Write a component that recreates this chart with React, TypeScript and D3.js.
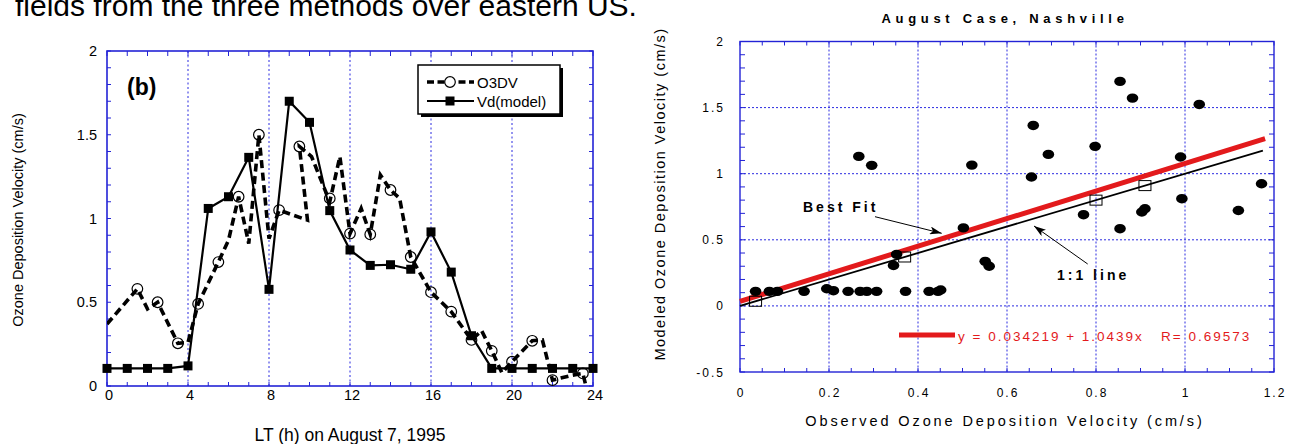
import React from "react";
import * as d3 from "d3";

// ---------- Left panel data ----------
const hourTicks = [0, 4, 8, 12, 16, 20, 24];
const hourGrid = [4, 8, 12, 16, 20];
const leftYTicks = [0, 0.5, 1, 1.5, 2];

const vdHours = [0, 1, 2, 3, 4, 5, 6, 7, 8, 9, 10, 11, 12, 13, 14, 15, 16, 17, 18, 19, 20, 21, 22, 23, 24];
const vdValues = [0.105, 0.105, 0.105, 0.105, 0.12, 1.06, 1.13, 1.365, 0.577, 1.7, 1.574, 1.047, 0.812, 0.72, 0.724, 0.697, 0.92, 0.68, 0.3, 0.105, 0.105, 0.105, 0.105, 0.105, 0.105];

const o3dvLineHours = [0, 1.5, 2.0, 2.5, 3.5, 4.0, 4.5, 5.5, 6.0, 6.5, 7.0, 7.5, 8.0, 8.5, 9.2, 9.9, 9.5, 10.1, 11.0, 11.5, 12.0, 12.55, 13.0, 13.5, 14.0, 14.45, 15.0, 16.0, 17.0, 18.0, 18.5, 19.0, 19.5, 20.0, 21.0, 21.5, 22.0, 23.0, 23.5, 23.75];
const o3dvLineValues = [0.37, 0.58, 0.46, 0.5, 0.255, 0.26, 0.49, 0.74, 0.87, 1.13, 0.85, 1.5, 0.88, 1.05, 1.02, 0.99, 1.43, 1.37, 1.1, 1.37, 0.91, 1.06, 0.905, 1.26, 1.17, 1.12, 0.77, 0.56, 0.444, 0.275, 0.33, 0.21, 0.08, 0.145, 0.27, 0.275, 0.035, 0.065, 0.075, -0.05];
const o3dvMarkHours = [1.5, 2.5, 3.5, 4.5, 5.5, 6.5, 7.5, 8.5, 9.5, 11, 12, 13, 14, 15, 16, 17, 18, 19, 20, 21, 22, 23.5];
const o3dvMarkValues = [0.58, 0.5, 0.255, 0.49, 0.74, 1.13, 1.5, 1.05, 1.43, 1.12, 0.91, 0.905, 1.17, 0.77, 0.56, 0.444, 0.275, 0.21, 0.145, 0.27, 0.035, 0.075];

// ---------- Right panel data ----------
const rightXTicks = [0, 0.2, 0.4, 0.6, 0.8, 1, 1.2];
const rightYTicks = [-0.5, 0, 0.5, 1, 1.5, 2];
const rightXGrid = [0.2, 0.4, 0.6, 0.8, 1.0];
const rightYGrid = [0, 0.5, 1, 1.5];

const observed = [0.035, 0.066, 0.084, 0.144, 0.195, 0.21, 0.243, 0.27, 0.285, 0.307, 0.372, 0.425, 0.445, 0.451,
  0.345, 0.352, 0.502, 0.551, 0.56, 0.267, 0.296, 0.521, 0.655, 0.659, 0.693, 0.772, 0.798, 0.854, 0.854, 0.882,
  0.903, 0.91, 0.99, 0.993, 1.032, 1.12, 1.172];
const modeled = [0.11, 0.11, 0.11, 0.11, 0.13, 0.115, 0.11, 0.11, 0.11, 0.11, 0.11, 0.11, 0.11, 0.12,
  0.306, 0.39, 0.59, 0.337, 0.3, 1.131, 1.063, 1.065, 0.975, 1.365, 1.146, 0.69, 1.207, 1.698, 0.584, 1.572,
  0.71, 0.735, 1.126, 0.811, 1.524, 0.722, 0.924];
const oneToOneMarks = [0.035, 0.37, 0.8, 0.91];
const fitIntercept = 0.034219;
const fitSlope = 1.0439;
const fitR = 0.69573;
const fitRange = [0, 1.18];
const oneToOneRange = [0, 1.175];

const BLUE = "#2323d6";
const GRID = "#2a2ae0";
const RED = "#e31a1c";
const FONT = "'Liberation Sans', Arial, Helvetica, sans-serif";

function range(a: number, b: number, step: number) {
  const out: number[] = [];
  for (let v = a; v <= b + 1e-9; v += step) out.push(+v.toFixed(6));
  return out;
}

function LeftPanel() {
  const x = d3.scaleLinear().domain([0, 24]).range([107, 593]);
  const y = d3.scaleLinear().domain([0, 2]).range([386, 51]);
  const [x0, x1] = x.range();
  const [y0, y1] = y.range();
  const vdLine = d3.line<number>().x((d, i) => x(vdHours[i])).y((d) => y(d));
  const o3Line = d3.line<number>().x((d, i) => x(o3dvLineHours[i])).y((d) => y(d));
  const minorX = range(0, 24, 1);
  const minorY = range(0, 2, 0.1);
  return (
    <g fontFamily={FONT}>
      <defs>
        <clipPath id="clipL">
          <rect x={x0} y={y1} width={x1 - x0} height={y0 - y1 + 1} />
        </clipPath>
      </defs>
      {hourGrid.map((h) => (
        <line key={"g" + h} x1={x(h)} x2={x(h)} y1={y1} y2={y0} stroke={GRID} strokeWidth={1} strokeDasharray="2,2.5" />
      ))}
      {minorX.map((h) => (
        <g key={"tx" + h}>
          <line x1={x(h)} x2={x(h)} y1={y0} y2={y0 - 4} stroke={BLUE} strokeWidth={1} />
          <line x1={x(h)} x2={x(h)} y1={y1} y2={y1 + 5} stroke={BLUE} strokeWidth={1} />
        </g>
      ))}
      {minorY.map((v) => (
        <g key={"ty" + v}>
          <line x1={x0} x2={x0 + 4} y1={y(v)} y2={y(v)} stroke={BLUE} strokeWidth={1} />
          <line x1={x1} x2={x1 - 4} y1={y(v)} y2={y(v)} stroke={BLUE} strokeWidth={1} />
        </g>
      ))}
      <rect x={x0} y={y1} width={x1 - x0} height={y0 - y1} fill="none" stroke={BLUE} strokeWidth={1.6} />
      {hourTicks.map((h) => (
        <text key={"lx" + h} x={x(h) + 2} y={400} fontSize={14.5} textAnchor="middle" fill="#000">{h}</text>
      ))}
      {leftYTicks.map((v) => (
        <text key={"ly" + v} x={97} y={y(v) + 5} fontSize={14.5} textAnchor="end" fill="#000">{v}</text>
      ))}
      <g clipPath="url(#clipL)">
        <path d={o3Line(o3dvLineValues) || ""} fill="none" stroke="#000" strokeWidth={3.6} strokeDasharray="8,4.5" />
        <path d={vdLine(vdValues) || ""} fill="none" stroke="#000" strokeWidth={2.2} />
      </g>
      {o3dvMarkValues.map((v, i) => (
        <circle key={"c" + i} cx={x(o3dvMarkHours[i])} cy={y(v)} r={5.3} fill="none" stroke="#000" strokeWidth={1.2} />
      ))}
      {vdValues.map((v, i) => (
        <rect key={"s" + i} x={x(vdHours[i]) - 4.5} y={y(v) - 4.5} width={9} height={9} fill="#000" />
      ))}
      <text x={127} y={95} fontSize={23} fontWeight="bold" fill="#000">(b)</text>
      {/* legend */}
      <rect x={421} y={68} width={142} height={49} fill="#000" />
      <rect x={418} y={65} width={142} height={49} fill="#fff" stroke="#000" strokeWidth={1.5} />
      <line x1={427} x2={474} y1={82} y2={82} stroke="#000" strokeWidth={3.6} strokeDasharray="7,3.5" />
      <circle cx={450} cy={82} r={5.3} fill="#fff" stroke="#000" strokeWidth={1.2} />
      <text x={477} y={87.5} fontSize={15} fill="#000">O3DV</text>
      <line x1={427} x2={474} y1={101} y2={101} stroke="#000" strokeWidth={2} />
      <rect x={445.5} y={96.5} width={9} height={9} fill="#000" />
      <text x={477} y={106.5} fontSize={15} fill="#000">Vd(model)</text>
      <text transform="translate(23,220) rotate(-90)" textAnchor="middle" fontSize={14.5} fill="#000">Ozone Deposition Velocity (cm/s)</text>
      <text x={350} y={441} textAnchor="middle" fontSize={17.5} fill="#000">LT (h) on August 7, 1995</text>
    </g>
  );
}

function RightPanel() {
  const x = d3.scaleLinear().domain([0, 1.2]).range([740, 1274]);
  const y = d3.scaleLinear().domain([-0.5, 2]).range([372, 41.5]);
  const [x0, x1] = x.range();
  const [y0, y1] = y.range();
  const minorX = range(0, 1.2, 0.05);
  const minorY = range(-0.5, 2, 0.1);
  const fitLine = d3.line<number>().x((d) => x(d)).y((d) => y(fitIntercept + fitSlope * d));
  const oneLine = d3.line<number>().x((d) => x(d)).y((d) => y(d));
  return (
    <g fontFamily={FONT}>
      <defs>
        <marker id="arrowR" viewBox="0 0 12 8" refX={12} refY={4} markerWidth={12} markerHeight={8} markerUnits="userSpaceOnUse" orient="auto">
          <path d="M0,0 L12,4 L0,8 L3,4 Z" fill="#000" />
        </marker>
      </defs>
      {rightXGrid.map((v) => (
        <line key={"gx" + v} x1={x(v)} x2={x(v)} y1={y1} y2={y0} stroke={GRID} strokeWidth={1} strokeDasharray="2,2" />
      ))}
      {rightYGrid.map((v) => (
        <line key={"gy" + v} x1={x0} x2={x1} y1={y(v)} y2={y(v)} stroke={GRID} strokeWidth={1} strokeDasharray="2,2" />
      ))}
      {minorX.map((v) => (
        <g key={"tx" + v}>
          <line x1={x(v)} x2={x(v)} y1={y0} y2={y0 - 4} stroke={BLUE} strokeWidth={1} />
          <line x1={x(v)} x2={x(v)} y1={y1} y2={y1 + 4} stroke={BLUE} strokeWidth={1} />
        </g>
      ))}
      {minorY.map((v) => (
        <g key={"ty" + v}>
          <line x1={x0} x2={x0 + 5} y1={y(v)} y2={y(v)} stroke={BLUE} strokeWidth={1} />
          <line x1={x1} x2={x1 - 5} y1={y(v)} y2={y(v)} stroke={BLUE} strokeWidth={1} />
        </g>
      ))}
      <rect x={x0} y={y1} width={x1 - x0} height={y0 - y1} fill="none" stroke={BLUE} strokeWidth={1.4} />
      {rightXTicks.map((v) => (
        <text key={"lx" + v} x={x(v) + 1} y={397} fontSize={12} letterSpacing={2} textAnchor="middle" fill="#000">{String(v)}</text>
      ))}
      {rightYTicks.map((v) => (
        <text key={"ly" + v} x={725} y={y(v) + 4.5} fontSize={12} letterSpacing={2} textAnchor="end" fill="#000">{String(v)}</text>
      ))}
      <path d={oneLine(oneToOneRange) || ""} fill="none" stroke="#000" strokeWidth={1.8} />
      <path d={fitLine(fitRange) || ""} fill="none" stroke={RED} strokeWidth={5} />
      {oneToOneMarks.map((v, i) => (
        <rect key={"q" + i} x={x(v) - 6} y={y(v) - 5} width={12} height={10} fill="none" stroke="#000" strokeWidth={1} />
      ))}
      {modeled.map((v, i) => (
        <ellipse key={"p" + i} cx={x(observed[i])} cy={y(v)} rx={5.8} ry={4.7} fill="#000" />
      ))}
      <text x={803} y={212} fontSize={14} fontWeight="bold" letterSpacing={3} fill="#000">Best Fit</text>
      <line x1={875} y1={216.7} x2={941.7} y2={233.3} stroke="#000" strokeWidth={1} markerEnd="url(#arrowR)" />
      <text x={1057} y={280} fontSize={14} fontWeight="bold" letterSpacing={3} fill="#000">1:1 line</text>
      <line x1={1087.7} y1={264} x2={1034} y2={226} stroke="#000" strokeWidth={1} markerEnd="url(#arrowR)" />
      <line x1={899} x2={955} y1={335} y2={335} stroke={RED} strokeWidth={5} />
      <text x={958} y={340.5} fontSize={13.5} letterSpacing={2} fill={RED}>
        {`y = ${fitIntercept} + ${fitSlope}x\u00a0\u00a0\u00a0R= ${fitR}`}
      </text>
      <text x={1005} y={23} textAnchor="middle" fontSize={13} fontWeight="bold" letterSpacing={4.7} fill="#000">August Case, Nashville</text>
      <text x={1005} y={426} textAnchor="middle" fontSize={14.5} letterSpacing={2.9} fill="#000">Observed Ozone Deposition Velocity (cm/s)</text>
      <text transform="translate(665,194) rotate(-90)" textAnchor="middle" fontSize={14.5} letterSpacing={1.5} fill="#000">Modeled Ozone Deposition Velocity (cm/s)</text>
    </g>
  );
}

export default function App() {
  return (
    <svg width={1292} height={444} viewBox="0 0 1292 444" style={{ position: "absolute", left: 0, top: 0, background: "#fff" }}>
      <rect x={0} y={0} width={1292} height={444} fill="#fff" />
      <text x={15} y={16} fontFamily={FONT} fontSize={30} fill="#000">fields from the three methods over eastern US.</text>
      <LeftPanel />
      <RightPanel />
    </svg>
  );
}
